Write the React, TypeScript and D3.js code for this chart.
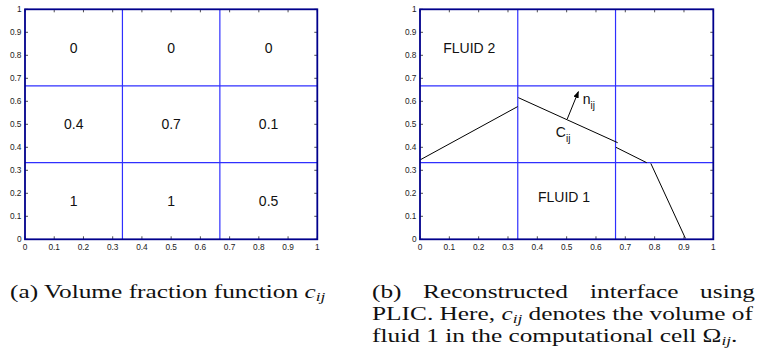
import React from "react";
import * as d3 from "d3";

// axis ticks shared by both panels
const tickValues = [0, 0.1, 0.2, 0.3, 0.4, 0.5, 0.6, 0.7, 0.8, 0.9, 1];
const tickLabels = ["0", "0.1", "0.2", "0.3", "0.4", "0.5", "0.6", "0.7", "0.8", "0.9", "1"];
const gridLines = [1 / 3, 2 / 3];

// (a) volume fraction per cell, rows from top to bottom
const cellRows = [
  ["0", "0", "0"],
  ["0.4", "0.7", "0.1"],
  ["1", "1", "0.5"],
];

// (b) piecewise linear interface
const interfaceSegments: [number, number][][] = [
  [[0, 0.345], [0.333, 0.577]],
  [[0.335, 0.616], [0.674, 0.42]],
  [[0.668, 0.4], [0.773, 0.333]],
  [[0.787, 0.33], [0.905, 0.004]],
];
const normalArrow: [number, number][] = [[0.502, 0.523], [0.54, 0.642]];

const W = 760;
const H = 363;
const top = 9.3;
const bottom = 239.3;
const sans = "Liberation Sans, Arial, sans-serif";

function Frame({ x0, x1, children }: { x0: number; x1: number; children?: React.ReactNode }) {
  const x = d3.scaleLinear().domain([0, 1]).range([x0, x1]);
  const y = d3.scaleLinear().domain([0, 1]).range([bottom, top]);
  return (
    <g>
      {gridLines.map((g) => (
        <g key={g}>
          <line x1={x(g)} x2={x(g)} y1={top} y2={bottom} stroke="#2f2fff" strokeWidth={1.2} />
          <line x1={x0} x2={x1} y1={y(g)} y2={y(g)} stroke="#2f2fff" strokeWidth={1.2} />
        </g>
      ))}
      {children}
      {tickValues.map((t, i) => (
        <g key={i}>
          <line x1={x(t)} x2={x(t)} y1={bottom} y2={bottom - 3} stroke="#222" strokeWidth={0.8} />
          <line x1={x(t)} x2={x(t)} y1={top} y2={top + 3} stroke="#222" strokeWidth={0.8} />
          <line x1={x0} x2={x0 + 3} y1={y(t)} y2={y(t)} stroke="#222" strokeWidth={0.8} />
          <line x1={x1} x2={x1 - 3} y1={y(t)} y2={y(t)} stroke="#222" strokeWidth={0.8} />
          <text x={x(t)} y={250} textAnchor="middle" fontSize={8.3} fill="#222" fontFamily={sans}>{tickLabels[i]}</text>
          <text x={x0 - 3.5} y={y(t) + 2.8} textAnchor="end" fontSize={8.3} fill="#222" fontFamily={sans}>{tickLabels[i]}</text>
        </g>
      ))}
      <rect x={x0} y={top} width={x1 - x0} height={bottom - top} fill="none" stroke="#00008c" strokeWidth={1.8} />
    </g>
  );
}

// caption text, widened to get closer to the LaTeX font
function Cap({ x, y, anchor, children }: { x: number; y: number; anchor?: string; children: React.ReactNode }) {
  return (
    <text transform={`translate(${x},${y}) scale(1.37,1)`} textAnchor={anchor ?? "start"}>
      {children}
    </text>
  );
}

const Sub = ({ t }: { t: string }) => (
  <tspan fontStyle="italic" fontSize={12.5} dy={3}>{t}</tspan>
);

export default function App() {
  const xa = d3.scaleLinear().domain([0, 1]).range([25, 317.3]);
  const xb = d3.scaleLinear().domain([0, 1]).range([420, 713.3]);
  const y = d3.scaleLinear().domain([0, 1]).range([bottom, top]);
  const line = d3.line<[number, number]>().x((d) => xb(d[0])).y((d) => y(d[1]));

  return (
    <svg width={W} height={H} style={{ position: "absolute", left: 0, top: 0, background: "#fff" }}>
      <defs>
        <marker id="arr" viewBox="0 0 10 10" refX="9" refY="5" markerWidth="7" markerHeight="7" orient="auto">
          <path d="M0,1 L10,5 L0,9 z" fill="#000" />
        </marker>
      </defs>

      <Frame x0={25} x1={317.3}>
        {cellRows.map((row, r) =>
          row.map((v, c) => (
            <text key={`${r}-${c}`} x={xa((c + 0.5) / 3)} y={y(1 - (r + 0.5) / 3) + 5}
              textAnchor="middle" fontSize={14} fontFamily={sans} fill="#111">{v}</text>
          ))
        )}
      </Frame>

      <Frame x0={420} x1={713.3}>
        {interfaceSegments.map((s, i) => (
          <path key={i} d={line(s) ?? ""} fill="none" stroke="#000" strokeWidth={1} />
        ))}
        <path d={line(normalArrow) ?? ""} fill="none" stroke="#000" strokeWidth={1} markerEnd="url(#arr)" />
        <text x={xb(0.168)} y={y(0.833) + 5} textAnchor="middle" fontSize={14} fontFamily={sans} fill="#111">FLUID 2</text>
        <text x={xb(0.491)} y={y(0.185) + 5} textAnchor="middle" fontSize={14} fontFamily={sans} fill="#111">FLUID 1</text>
        <text x={xb(0.555)} y={y(0.605) + 4} fontSize={14} fontFamily={sans} fill="#111">
          n<tspan fontSize={10} dy={5}>ij</tspan>
        </text>
        <text x={xb(0.463)} y={y(0.468) + 5} fontSize={14} fontFamily={sans} fill="#111">
          C<tspan fontSize={10} dy={5}>ij</tspan>
        </text>
      </Frame>

      {/* captions */}
      <g fontFamily="Liberation Serif, Times New Roman, serif" fontSize={18.5} fill="#111">
        <Cap x={10} y={298}>
          (a) Volume fraction function <tspan fontStyle="italic">c</tspan><Sub t="ij" />
        </Cap>

        <Cap x={372} y={298}>(b)</Cap>
        <Cap x={423} y={298}>Reconstructed</Cap>
        <Cap x={590} y={298}>interface</Cap>
        <Cap x={755} y={298} anchor="end">using</Cap>

        <Cap x={372} y={319.5}>
          PLIC. Here, <tspan fontStyle="italic">c</tspan><Sub t="ij" />
          <tspan dy={-3}> denotes the volume of</tspan>
        </Cap>
        <Cap x={372} y={342}>
          fluid 1 in the computational cell Ω<Sub t="ij" /><tspan dy={-3}>.</tspan>
        </Cap>
      </g>
    </svg>
  );
}
